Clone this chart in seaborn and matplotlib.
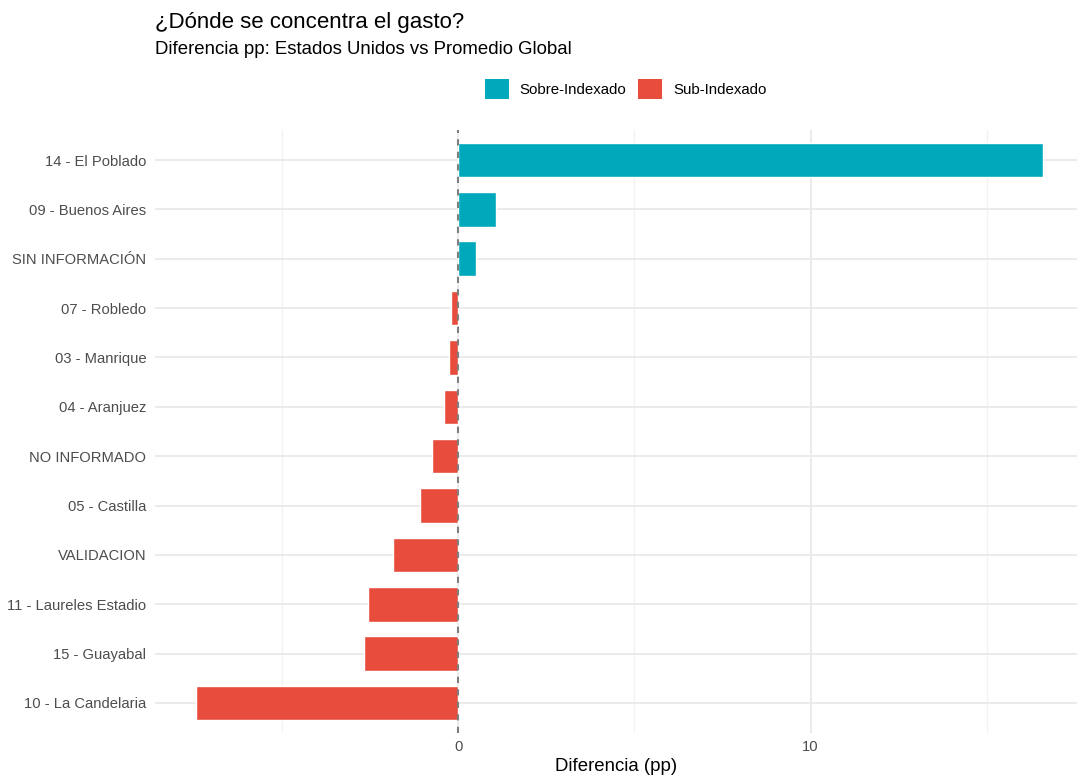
import pandas as pd
import seaborn as sns
import matplotlib.pyplot as plt
import matplotlib
from matplotlib.patches import Patch

matplotlib.use('Agg')

# Datos
comunas = ['14 - El Poblado', '09 - Buenos Aires', 'SIN INFORMACIÓN', '07 - Robledo',
           '03 - Manrique', '04 - Aranjuez', 'NO INFORMADO', '05 - Castilla',
           'VALIDACION', '11 - Laureles Estadio', '15 - Guayabal', '10 - La Candelaria']
diferencia = [16.60, 1.08, 0.49, -0.20, -0.25, -0.40, -0.74, -1.09, -1.84, -2.57, -2.68, -7.43]
grupos = ['Sobre-Indexado', 'Sub-Indexado']
colores = {'Sobre-Indexado': '#00A8BB', 'Sub-Indexado': '#E74C3C'}

df = pd.DataFrame({'comuna': comunas, 'dif': diferencia})
df['grupo'] = ['Sobre-Indexado' if v > 0 else 'Sub-Indexado' for v in df['dif']]

sns.set_theme(style='white')
plt.rcParams['font.family'] = ['Liberation Sans', 'DejaVu Sans']
plt.rcParams['text.color'] = 'black'

fig = plt.figure(figsize=(10.77, 7.77), dpi=100)
ax = fig.add_axes([154.5 / 1077, 44.4 / 777, (1077 - 154.5) / 1077, (732.6 - 130.4) / 777])

# Rejilla al estilo theme_minimal
for v in [-5, 5, 15]:
    ax.axvline(v, color='#F2F2F2', lw=0.9, zorder=0)
for v in [0, 10]:
    ax.axvline(v, color='#EBEBEB', lw=1.4, zorder=0)
for i in range(len(comunas)):
    ax.axhline(i, color='#EBEBEB', lw=1.4, zorder=0)

sns.barplot(data=df, x='dif', y='comuna', hue='grupo', order=comunas, hue_order=grupos,
            palette=colores, dodge=False, width=0.7, orient='h', legend=False,
            saturation=1, ax=ax, zorder=2)

ax.axvline(0, color='#7F7F7F', lw=1.5, ls=(0, (3, 3)), zorder=3)

ax.set_xlim(-8.62, 17.56)
ax.set_ylim(len(comunas) - 0.4, -0.6)
ax.set_xticks([0, 10])
ax.set_xticklabels(['0', '10'])
ax.tick_params(axis='both', length=0, labelsize=10.6, labelcolor='#4D4D4D')
ax.tick_params(axis='y', pad=6)
ax.tick_params(axis='x', pad=5)
ax.set_ylabel('')
ax.set_xlabel('Diferencia (pp)', fontsize=13.4, color='black', labelpad=3)
for s in ax.spines.values():
    s.set_visible(False)

fig.text(155 / 1077, 1 - 28 / 777, '¿Dónde se concentra el gasto?', fontsize=16.0,
         ha='left', va='baseline', color='black')
fig.text(155 / 1077, 1 - 54 / 777, 'Diferencia pp: Estados Unidos vs Promedio Global',
         fontsize=13.4, ha='left', va='baseline', color='black')

handles = [Patch(facecolor=colores[g], edgecolor='none', label=g) for g in grupos]
fig.legend(handles=handles, loc='center', bbox_to_anchor=(625.5 / 1077, 1 - 89 / 777),
           ncol=2, frameon=False, fontsize=10.8, handlelength=1.6, handleheight=1.6,
           handletextpad=0.75, columnspacing=0.75, labelcolor='black')

plt.savefig('out.png', dpi=100)
